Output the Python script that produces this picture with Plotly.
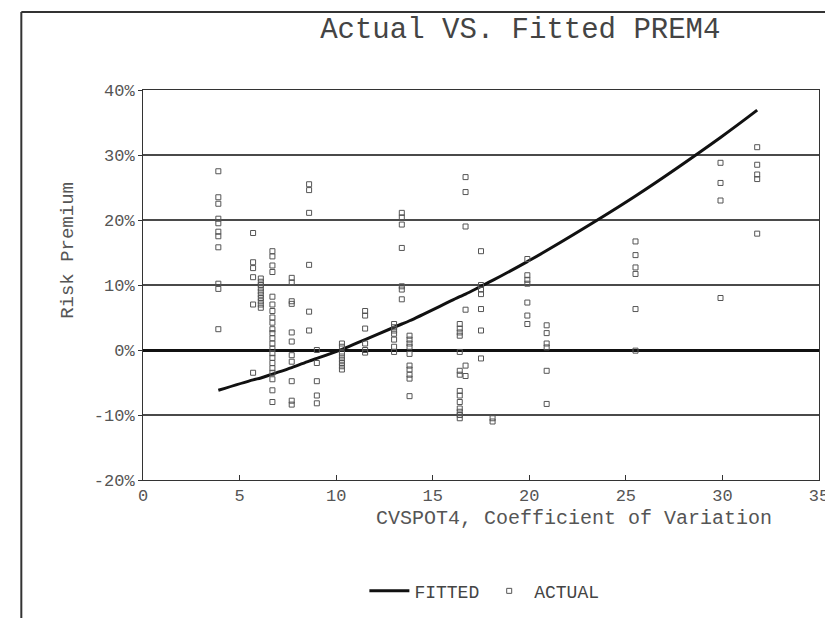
import plotly.graph_objects as go

# Actual observations, grouped by their CVSPOT4 value (x) -> risk premium values (%)
cluster_x = [3.9, 5.7, 6.1, 6.7, 7.7, 8.6, 9.0, 10.3, 11.5, 13.0, 13.4, 13.8,
             16.4, 16.7, 17.5, 18.1, 19.9, 20.9, 25.5, 29.9, 31.8]
cluster_y = [
    [27.5, 23.5, 22.5, 20.2, 19.5, 18.2, 17.5, 15.8, 10.2, 9.4, 3.2],
    [18.0, 13.5, 12.6, 11.2, 7.0, -3.5],
    [11.0, 10.5, 10.0, 9.5, 9.0, 8.5, 8.0, 7.5, 7.0, 6.5],
    [15.2, 14.4, 13.0, 12.0, 8.2, 7.0, 6.0, 5.0, 4.2, 3.2, 2.6, 1.8, 1.0, 0.2,
     -0.5, -1.2, -2.0, -2.8, -3.5, -4.5, -6.2, -8.0],
    [11.1, 10.4, 7.5, 7.1, 2.7, 1.3, -0.8, -1.8, -4.8, -7.8, -8.4],
    [25.5, 24.6, 21.1, 13.1, 5.9, 3.0],
    [0.0, -2.0, -4.8, -7.0, -8.2],
    [1.0, 0.5, -0.5, -1.0, -1.5, -2.0, -2.5, -3.0],
    [6.0, 5.3, 3.3, 1.0, 0.0, -0.4],
    [4.0, 3.5, 3.0, 2.5, 1.6, 0.5, -0.3],
    [21.1, 20.4, 19.3, 15.7, 9.8, 9.3, 7.8],
    [2.2, 1.6, 1.0, 0.5, -0.6, -2.4, -3.0, -3.8, -4.4, -7.1],
    [4.0, 3.3, 2.7, 2.2, -0.3, -3.2, -3.8, -6.3, -7.0, -8.0, -9.0, -9.5, -10.0, -10.5],
    [26.6, 24.3, 19.0, 6.2, -2.4, -4.0],
    [15.2, 10.0, 9.3, 8.6, 6.3, 3.0, -1.3],
    [-10.5, -11.0],
    [14.0, 11.5, 10.8, 10.2, 7.3, 5.3, 4.0],
    [3.8, 2.6, 1.0, 0.4, -3.2, -8.3],
    [16.7, 14.6, 12.7, 11.7, 6.3, -0.1],
    [28.8, 25.7, 23.0, 8.0],
    [31.2, 28.5, 27.0, 26.3, 17.9],
]

# Fitted values
fitted_x = [3.9, 5.7, 6.1, 6.7, 7.7, 8.6, 9.0, 10.3, 11.5, 13.0, 13.4, 13.8,
            16.4, 16.7, 17.5, 18.1, 19.9, 20.9, 25.5, 29.9, 31.8]
fitted_y = [-6.2, -4.6, -4.3, -3.7, -2.7, -1.7, -1.3, 0.1, 1.6, 3.5, 4.0, 4.5,
            8.2, 8.6, 9.8, 10.7, 13.6, 15.3, 23.7, 32.7, 36.9]

x_ticks = [0, 5, 10, 15, 20, 25, 30, 35]
y_ticks = [-20, -10, 0, 10, 20, 30, 40]

actual_x = [cx for cx, ys in zip(cluster_x, cluster_y) for _ in ys]
actual_y = [y for ys in cluster_y for y in ys]

FONT = "Liberation Mono, Courier New, monospace"

fig = go.Figure()
fig.add_trace(go.Scatter(
    x=fitted_x, y=fitted_y, mode="lines", name="FITTED",
    line=dict(color="#111111", width=3, shape="spline"),
))
fig.add_trace(go.Scatter(
    x=actual_x, y=actual_y, mode="markers", name="ACTUAL",
    marker=dict(symbol="square-open", size=5, color="#555555",
                line=dict(width=1, color="#555555")),
))

fig.update_layout(
    width=833, height=618,
    paper_bgcolor="white", plot_bgcolor="white",
    margin=dict(l=135, r=14, t=82, b=146),
    font=dict(family=FONT, color="#333333"),
    title=dict(text="Actual VS. Fitted PREM4", x=0.615, xanchor="center",
               y=0.968, yanchor="middle",
               font=dict(family=FONT, size=29, color="#444444")),
    showlegend=True,
    legend=dict(orientation="h", x=0.505, xanchor="center", y=-0.285,
                yanchor="middle", font=dict(family=FONT, size=18, color="#444444"),
                bgcolor="rgba(0,0,0,0)", itemwidth=40),
)

fig.update_xaxes(
    range=[0, 35], tickvals=x_ticks, ticktext=[str(v) for v in x_ticks],
    showgrid=False, zeroline=False,
    showline=True, linecolor="#333333", linewidth=1, mirror=True,
    ticks="inside", ticklen=5, tickcolor="#333333",
    ticklabeloverflow="allow",
    tickfont=dict(family=FONT, size=17, color="#555555"),
)
fig.update_yaxes(
    range=[-20, 40], tickvals=y_ticks, ticktext=[f"{v}%" for v in y_ticks],
    showgrid=True, gridcolor="#4a4a4a", gridwidth=2,
    zeroline=True, zerolinecolor="#111111", zerolinewidth=2.5,
    showline=True, linecolor="#333333", linewidth=1, mirror=True,
    ticks="outside", ticklen=4, tickcolor="#333333",
    tickfont=dict(family=FONT, size=17, color="#555555"),
)

fig.add_annotation(text="CVSPOT4, Coefficient of Variation", xref="paper", yref="paper",
                   x=0.637, y=-0.098, xanchor="center", yanchor="middle",
                   showarrow=False, font=dict(family=FONT, size=20, color="#555555"))
fig.add_annotation(text="Risk Premium", xref="paper", yref="paper",
                   x=-0.111, y=0.59, xanchor="center", yanchor="middle", textangle=-90,
                   showarrow=False, font=dict(family=FONT, size=19, color="#555555"))

# outer frame lines (top and left)
fig.add_shape(type="line", xref="paper", yref="paper", x0=-0.18, x1=1.03, y0=1.2, y1=1.2,
              line=dict(color="#333333", width=2))
fig.add_shape(type="line", xref="paper", yref="paper", x0=-0.18, x1=-0.18, y0=-0.4, y1=1.2,
              line=dict(color="#333333", width=2))

fig.write_html("out.html")
